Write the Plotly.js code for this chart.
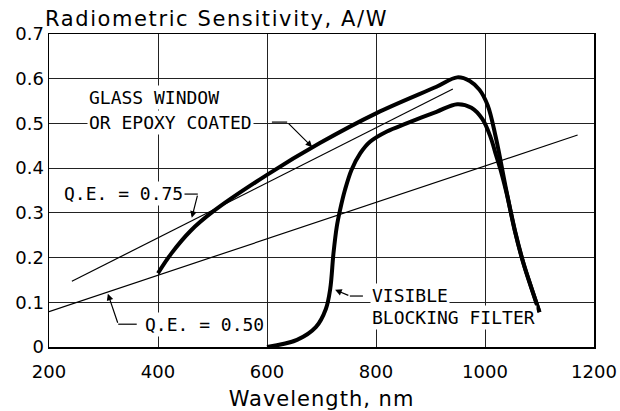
<!DOCTYPE html>
<html>
<head>
<meta charset="utf-8">
<script src="https://cdn.plot.ly/plotly-3.0.1.min.js"></script>
<style>
html,body{margin:0;padding:0;background:#fff;}
#chart{width:620px;height:411px;}
#chart .gtitle{letter-spacing:1.6px;}
#chart .xtitle{letter-spacing:1px;}
</style>
</head>
<body>
<div id="chart"></div>
<script>
// Glass window / epoxy coated (thick upper curve)
const glassX = [400, 425, 460, 500, 600, 697, 801, 911, 949, 972, 990, 1005, 1020, 1040, 1055, 1070, 1085, 1100];
const glassY = [0.165, 0.21, 0.26, 0.302, 0.385, 0.456, 0.523, 0.582, 0.603, 0.595, 0.575, 0.54, 0.468, 0.345, 0.26, 0.19, 0.133, 0.078];
// Visible blocking filter (thick lower curve)
const filterX = [600, 655, 690, 708, 716, 722, 728, 734, 743, 755, 771, 789, 820, 856, 911, 949, 975, 995, 1010, 1020, 1030, 1040, 1055, 1070, 1085, 1100];
const filterY = [0, 0.016, 0.045, 0.085, 0.13, 0.21, 0.269, 0.306, 0.351, 0.396, 0.433, 0.459, 0.482, 0.5, 0.526, 0.543, 0.535, 0.51, 0.47, 0.43, 0.39, 0.342, 0.258, 0.189, 0.132, 0.078];
// Quantum efficiency reference lines
const qe75X = [242, 941];
const qe75Y = [0.147, 0.577];
const qe50X = [200, 1170];
const qe50Y = [0.079, 0.474];

const xTicks = [200, 400, 600, 800, 1000, 1200];
const yTicks = [0, 0.1, 0.2, 0.3, 0.4, 0.5, 0.6, 0.7];

const labelFont = {family: 'DejaVu Sans Mono', size: 18, color: '#000'};
const thick = {color: '#000', width: 4, shape: 'spline', smoothing: 1};
const thin = {color: '#000', width: 1.2};

const traces = [
  {x: qe75X, y: qe75Y, mode: 'lines', line: thin, hoverinfo: 'skip'},
  {x: qe50X, y: qe50Y, mode: 'lines', line: thin, hoverinfo: 'skip'},
  {x: glassX, y: glassY, mode: 'lines', line: thick, hoverinfo: 'skip'},
  {x: filterX, y: filterY, mode: 'lines', line: thick, hoverinfo: 'skip'}
];

function label(text, x, y) {
  return {text: text, x: x, y: y, xref: 'x', yref: 'y', xanchor: 'left', yanchor: 'middle',
          showarrow: false, font: labelFont, bgcolor: '#fff', borderpad: 1};
}
function arrow(x0, y0, x1, y1) {
  return {text: '', x: x1, y: y1, ax: x0, ay: y0, xref: 'x', yref: 'y', axref: 'x', ayref: 'y',
          showarrow: true, arrowhead: 2, arrowsize: 1.1, arrowwidth: 1.2, arrowcolor: '#000',
          standoff: 0, startstandoff: 0};
}
function stub(x0, y0, x1, y1) {
  return {type: 'line', xref: 'x', yref: 'y', x0: x0, y0: y0, x1: x1, y1: y1,
          line: {color: '#000', width: 1.2}, layer: 'above'};
}

const layout = {
  width: 620, height: 411,
  margin: {l: 49, r: 26, t: 34, b: 64},
  paper_bgcolor: '#fff', plot_bgcolor: '#fff',
  showlegend: false,
  font: {family: 'DejaVu Sans', color: '#000'},
  title: {text: 'Radiometric Sensitivity, A/W', font: {family: 'DejaVu Sans', size: 21, color: '#000'},
          xref: 'container', x: 45/620, xanchor: 'left', yref: 'container', y: 1 - 19/411, yanchor: 'middle'},
  xaxis: {
    range: [200, 1200], tickvals: xTicks, ticktext: xTicks.map(String),
    showgrid: true, gridcolor: '#222', gridwidth: 1,
    showline: true, linecolor: '#000', linewidth: 1.5, mirror: true,
    ticks: '', zeroline: false, ticklabelstandoff: 8,
    tickfont: {family: 'DejaVu Sans', size: 18, color: '#000'},
    title: {text: 'Wavelength, nm', font: {family: 'DejaVu Sans', size: 21, color: '#000'}, standoff: 10}
  },
  yaxis: {
    range: [0, 0.7], tickvals: yTicks, ticktext: yTicks.map(v => v === 0 ? '0' : v.toFixed(1)),
    showgrid: true, gridcolor: '#222', gridwidth: 1,
    showline: true, linecolor: '#000', linewidth: 1.5, mirror: true,
    ticks: '', zeroline: false,
    tickfont: {family: 'DejaVu Sans', size: 18, color: '#000'}
  },
  annotations: [
    label('GLASS WINDOW', 270, 0.557),
    label('OR EPOXY COATED', 270, 0.501),
    arrow(637, 0.503, 683, 0.447),
    label('Q.E. = 0.75', 224, 0.344),
    arrow(473, 0.342, 462, 0.289),
    label('Q.E. = 0.50', 372, 0.051),
    arrow(327, 0.051, 308, 0.119),
    label('VISIBLE', 789, 0.116),
    label('BLOCKING FILTER', 789, 0.065),
    arrow(752, 0.114, 725, 0.128)
  ],
  shapes: [
    stub(609, 0.503, 637, 0.503),
    stub(446, 0.342, 473, 0.342),
    stub(361, 0.051, 327, 0.051),
    stub(776, 0.114, 752, 0.114)
  ]
};

Plotly.newPlot('chart', traces, layout, {staticPlot: true, displayModeBar: false});
</script>
</body>
</html>
